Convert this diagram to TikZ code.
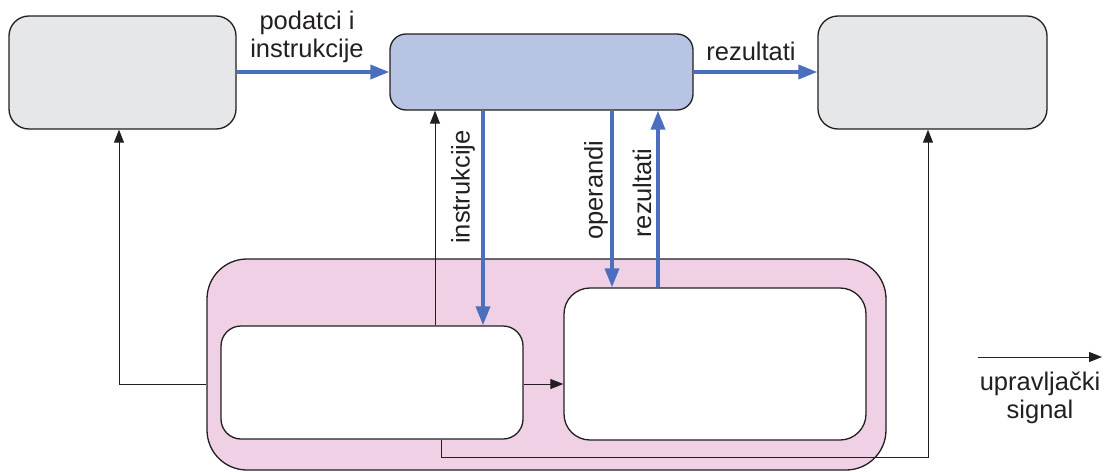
\documentclass[tikz,border=0pt]{standalone}
\usepackage{fontspec}
\setmainfont{Liberation Sans}
\usetikzlibrary{arrows.meta,calc}
\definecolor{edge}{HTML}{231F20}
\definecolor{boxgray}{HTML}{E6E7E8}
\definecolor{boxblue}{HTML}{B8C4E3}
\definecolor{linkblue}{HTML}{4A6FBE}
\definecolor{pinkfill}{HTML}{F0D0E5}
\tikzset{
  box/.style={draw=edge, line width=1.3pt, rectangle, inner sep=0pt},
  bluearrow/.style={draw=linkblue, line width=3.6pt, -{Triangle[length=19pt,width=14pt]}},
  blueline/.style={draw=linkblue, line width=3.6pt},
  ctrl/.style={draw=edge, line width=1pt, -{Triangle[length=13pt,width=10pt]}},
  ctrlline/.style={draw=edge, line width=1pt},
  lbl/.style={text=edge, font=\fontsize{25.5}{27.5}\selectfont, inner sep=0pt}
}
\begin{document}
\begin{tikzpicture}[x=1pt,y=-1pt]
\useasboundingbox (0,0) rectangle (1110,471);
% outer boxes
\node[box, fill=pinkfill, minimum width=679pt, minimum height=211pt, rounded corners=40pt] (P) at (546.5,364.5) {};
\node[box, fill=boxgray, minimum width=227pt, minimum height=113pt, rounded corners=20pt] (L) at (122.5,72.5) {};
\node[box, fill=boxblue, minimum width=303pt, minimum height=76pt, rounded corners=16pt] (B) at (541.5,72) {};
\node[box, fill=boxgray, minimum width=229pt, minimum height=113pt, rounded corners=20pt] (R) at (932.5,72.5) {};
\node[box, fill=white, minimum width=302pt, minimum height=113pt, rounded corners=20pt] (IL) at (372,382.5) {};
\node[box, fill=white, minimum width=302pt, minimum height=152pt, rounded corners=26pt] (IR) at (715,364) {};
% helper x positions
\coordinate (xi) at (483,0);
\coordinate (xc) at (435,0);
\coordinate (xo) at (612,0);
\coordinate (xr) at (658,0);
\coordinate (xl) at (119,0);
\coordinate (xb) at (441,0);
\coordinate (xrr) at (928,0);
\coordinate (yb) at (0,457);
\coordinate (ym) at (0,384);
% blue connectors
\draw[bluearrow] (L.east |- B.west) -- (B.west);
\draw[bluearrow] (B.east) -- (R.west |- B.east);
\draw[bluearrow] (xi |- B.south) -- (xi |- IL.north);
\draw[bluearrow] (xo |- B.south) -- (xo |- IR.north);
\draw[bluearrow] (xr |- IR.north) -- (xr |- B.south);
% control connectors
\draw[ctrl] (xc |- IL.north) -- (xc |- B.south);
\draw[ctrl] (IL.east |- ym) -- (IR.west |- ym);
\draw[ctrl] (P.west |- ym) -- (xl |- ym) -- (xl |- L.south);
\draw[ctrl] (xb |- IL.south) -- (xb |- yb) -- (xrr |- yb) -- (xrr |- R.south);
% labels
\node[lbl, align=center] (t1) at (307,37) {podatci i\\instrukcije};
\node[lbl] (t2) at (751,51) {rezultati};
\node[lbl, rotate=90] (t3) at (463,187) {instrukcije};
\node[lbl, rotate=90] (t4) at (596,190) {operandi};
\node[lbl, rotate=90] (t5) at (642,193) {rezultati};
% legend
\coordinate (g1) at (978,357);
\coordinate (g2) at (1102,357);
\draw[ctrl] (g1) -- (g2);
\node[lbl, align=center] (t6) at (1040,398) {upravljački\\signal};
\end{tikzpicture}
\end{document}
